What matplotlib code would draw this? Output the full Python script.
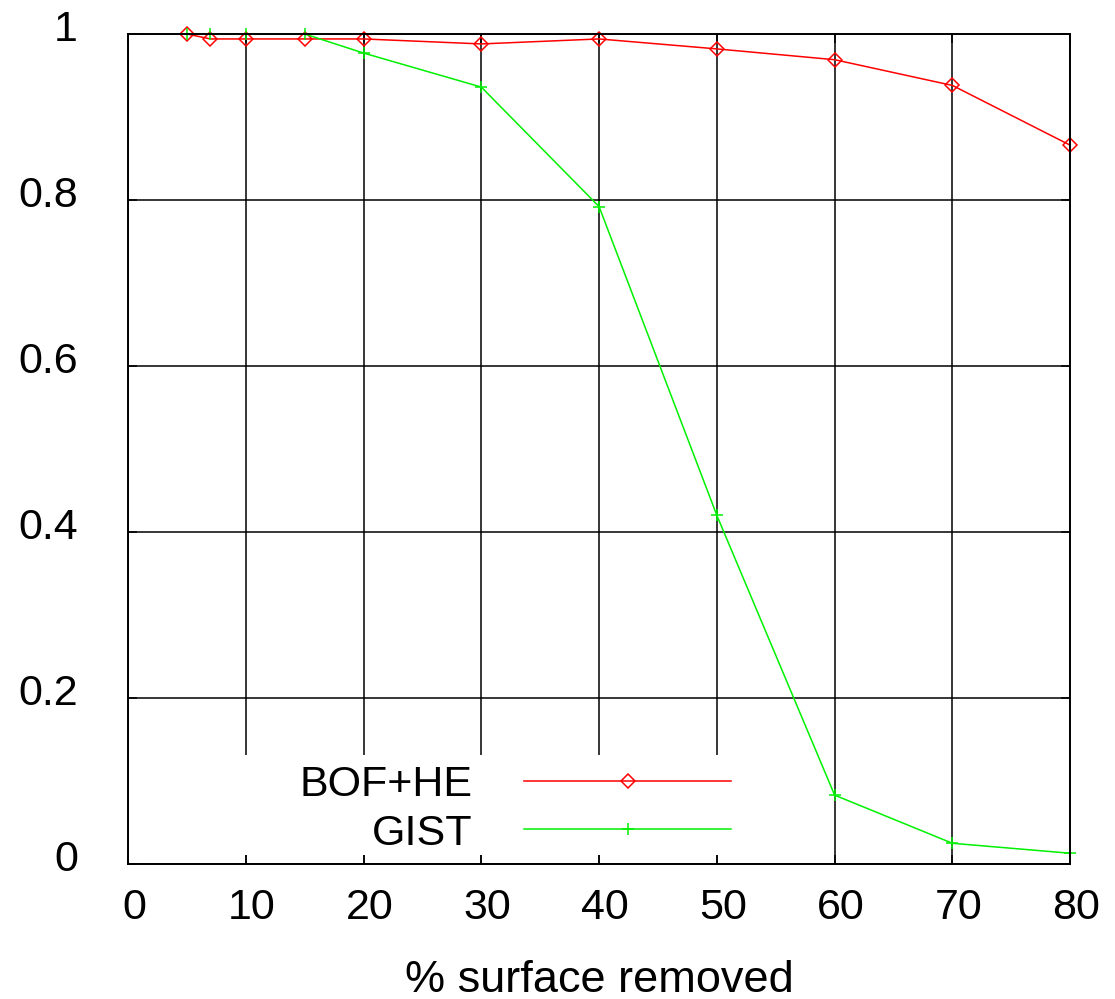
import matplotlib
matplotlib.use("Agg")
import matplotlib.pyplot as plt
from matplotlib.patches import Rectangle
from matplotlib.transforms import ScaledTranslation

plt.rcParams['font.family'] = ['Liberation Sans', 'DejaVu Sans']

# % of surface removed
removed = [5, 7, 10, 15, 20, 30, 40, 50, 60, 70, 80]

# recognition rate for each descriptor
bof_he = [1.0, 0.994, 0.994, 0.994, 0.994, 0.988, 0.994, 0.982, 0.969, 0.938, 0.866]
gist = [1.0, 1.0, 1.0, 1.0, 0.977, 0.936, 0.792, 0.420, 0.083, 0.025, 0.013]

x_ticks = [0, 10, 20, 30, 40, 50, 60, 70, 80]
y_ticks = [0, 0.2, 0.4, 0.6, 0.8, 1]
y_tick_labels = ['0', '0.2', '0.4', '0.6', '0.8', '1']

fig = plt.figure(figsize=(11.15, 9.99), dpi=100)
ax = fig.add_axes([0.1148, 0.1351, 0.845, 0.8309])

ax.plot(removed, bof_he, color='#ff0000', lw=1.1, marker='D', ms=7.5,
        mfc='none', mec='#ff0000', mew=1.1, label='BOF+HE', clip_on=False)
ax.plot(removed, gist, color='#00f000', lw=1.1, marker='+', ms=9,
        mec='#00f000', mew=1.1, label='GIST', clip_on=False)

ax.set_xlim(0, 80)
ax.set_ylim(0, 1)
ax.set_xticks(x_ticks)
ax.set_yticks(y_ticks)
ax.set_yticklabels(y_tick_labels)
ax.grid(True, color='black', lw=1.1)
ax.set_axisbelow(True)
for s in ax.spines.values():
    s.set_linewidth(1.4)
ax.tick_params(direction='in', length=6.5, width=1.1, top=True, right=True,
               labelsize=31)
ax.tick_params(axis='y', pad=36)
ax.tick_params(axis='x', pad=17)
ax.set_xlabel('% surface removed', fontsize=32.5, labelpad=23)

# nudge tick labels the way gnuplot places them
for lab in ax.get_xticklabels():
    lab.set_transform(lab.get_transform() + ScaledTranslation(0.06, 0, fig.dpi_scale_trans))
for lab in ax.get_yticklabels():
    lab.set_transform(lab.get_transform() + ScaledTranslation(0, 0.085, fig.dpi_scale_trans))

# white key background hiding the grid (bottom ticks stay visible)
ax.add_patch(Rectangle((0.114, 0.011), 0.541, 0.12, transform=ax.transAxes,
                       facecolor='white', edgecolor='none', zorder=1.5))

leg = ax.legend(loc='center', bbox_to_anchor=(0.411, 0.066), fontsize=31,
                markerfirst=False, numpoints=1, handlelength=4.8,
                handletextpad=1.2, labelspacing=0.2, borderpad=0.3,
                frameon=False)
for t in leg.get_texts():
    t.set_ha('right')

fig.savefig('out.png', dpi=100)
